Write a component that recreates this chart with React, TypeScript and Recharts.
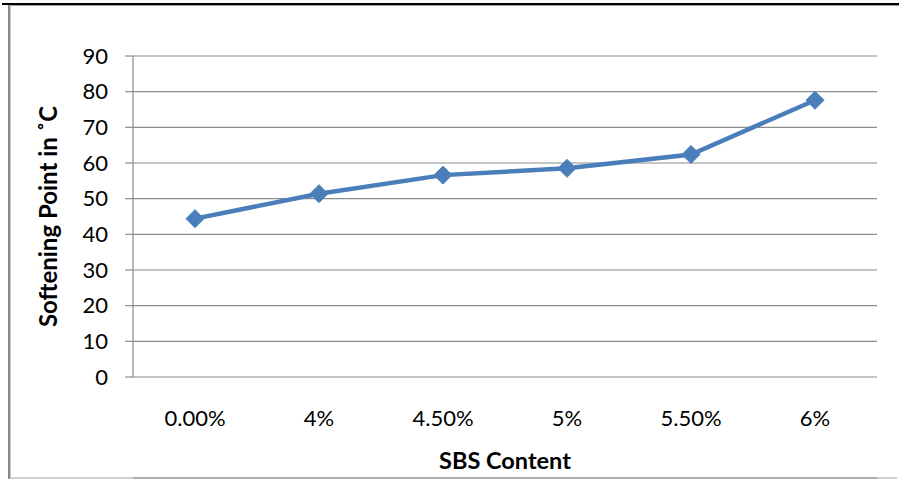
import React from 'react';
import { LineChart, Line, XAxis, YAxis, CartesianGrid } from 'recharts';

const categories = ['0.00%', '4%', '4.50%', '5%', '5.50%', '6%'];
const softeningPoint = [44.4, 51.4, 56.6, 58.5, 62.4, 77.6];
const yTicks = [0, 10, 20, 30, 40, 50, 60, 70, 80, 90];
const boundaryTicks = [0, 1, 2, 3, 4, 5, 6];

const data = categories.map((c, i) => ({ category: c, value: softeningPoint[i] }));

const FONT = 'Lato, "Noto Sans", sans-serif';
const BLUE = '#4a7ebb';
const GRID = '#8c8c8c';

const Diamond = (props: any) => {
  const { cx, cy } = props;
  if (cx == null || cy == null) return null;
  const r = 9;
  return (
    <polygon
      points={`${cx},${cy - r} ${cx + r},${cy} ${cx},${cy + r} ${cx - r},${cy}`}
      fill={BLUE}
      stroke={BLUE}
      strokeWidth={1}
    />
  );
};

export default function App() {
  return (
    <div style={{ position: 'absolute', left: 0, top: 0, width: 899, height: 479, background: '#fff', fontFamily: FONT }}>
      <div style={{ position: 'absolute', left: 2, top: 3, width: 897, height: 2, background: '#000' }} />
      <div style={{ position: 'absolute', left: 8, top: 5, width: 897 - 6, height: 1, background: '#9a9a9a' }} />
      <div style={{ position: 'absolute', left: 8, top: 5, width: 2, height: 474, background: '#8a8a8a' }} />
      <div style={{ position: 'absolute', left: 10, top: 5, width: 1, height: 474, background: '#c8c8c8' }} />
      <div style={{ position: 'absolute', left: 10, top: 477, width: 887, height: 2, background: '#d0d0d0' }} />
      <div style={{ position: 'absolute', left: 0, top: 0 }}>
        <LineChart width={899} height={479} data={data} margin={{ top: 56, right: 22, bottom: 0, left: 0 }}>
          <CartesianGrid horizontal vertical={false} stroke={GRID} strokeWidth={1.2} xAxisId="cat" yAxisId="y" />
          <XAxis
            xAxisId="grid"
            type="number"
            domain={[0, 6]}
            ticks={boundaryTicks}
            allowDataOverflow
            tick={false}
            tickSize={8}
            height={1}
            axisLine={{ stroke: GRID, strokeWidth: 1.2 }}
            tickLine={{ stroke: GRID, strokeWidth: 1.2 }}
          />
          <XAxis
            xAxisId="cat"
            dataKey="category"
            type="category"
            scale="band"
            interval={0}
            axisLine={false}
            tickLine={false}
            tickSize={0}
            tickMargin={33}
            height={101}
            tick={{ fill: '#000', fontSize: 22, fontFamily: FONT }}
            label={{ value: 'SBS Content', position: 'insideBottom', offset: 9, fill: '#000', fontSize: 23.5, fontWeight: 'bold', fontFamily: FONT }}
          />
          <YAxis
            yAxisId="y"
            domain={[0, 90]}
            ticks={yTicks}
            width={133}
            tickSize={8}
            tickMargin={17}
            axisLine={{ stroke: GRID, strokeWidth: 1.2 }}
            tickLine={{ stroke: GRID, strokeWidth: 1.2 }}
            tick={{ fill: '#000', fontSize: 22, fontFamily: FONT }}
            label={{ value: 'Softening Point in ˚C', angle: -90, position: 'insideLeft', offset: 48, fill: '#000', fontSize: 24, fontWeight: 'bold', fontFamily: FONT, style: { textAnchor: 'middle' } }}
          />
          <Line
            xAxisId="cat"
            yAxisId="y"
            type="linear"
            dataKey="value"
            stroke={BLUE}
            strokeWidth={4.5}
            dot={<Diamond />}
            activeDot={false}
            isAnimationActive={false}
          />
        </LineChart>
      </div>
    </div>
  );
}
